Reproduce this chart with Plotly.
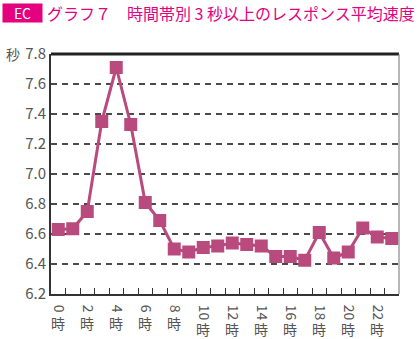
import plotly.graph_objects as go

hours = list(range(24))
speed = [6.63, 6.635, 6.75, 7.35, 7.71, 7.33, 6.81, 6.69, 6.50, 6.48, 6.51, 6.52,
         6.54, 6.53, 6.52, 6.45, 6.45, 6.425, 6.61, 6.44, 6.48, 6.64, 6.58, 6.57]
label_hours = list(range(0, 24, 2))
label_nums = [str(h) for h in label_hours]
hour_suffix = "時"
y_ticks = [6.2, 6.4, 6.6, 6.8, 7.0, 7.2, 7.4, 7.6, 7.8]
y_ticktext = ["6.2", "6.4", "6.6", "6.8", "7.0", "7.2", "7.4", "7.6", "7.8"]
title_text = "グラフ７　時間帯別 3 秒以上のレスポンス平均速度"
badge_text = "EC"
unit_text = "秒"

FONT = "Noto Sans CJK JP"
LINE_COLOR = "#b84a7d"
PINK = "#e4007f"
GRAY = "#555555"

PW, PH = 348, 240  # plot area size in px
ML, MT = 51, 54

fig = go.Figure()
fig.add_trace(go.Scatter(
    x=hours, y=speed, mode="lines+markers",
    line=dict(color=LINE_COLOR, width=3),
    marker=dict(symbol="square", size=13, color=LINE_COLOR),
    hoverinfo="skip", showlegend=False,
))

fig.update_xaxes(
    range=[-0.5, 23.5],
    tickmode="array", tickvals=label_hours, ticktext=label_nums,
    tickangle=90, ticks="", ticklen=0, ticklabelstandoff=6,
    tickfont=dict(family=FONT, size=14, color=GRAY),
    showgrid=False, zeroline=False,
    showline=True, linecolor="#333333", linewidth=2,
    minor=dict(tickmode="array", tickvals=[h + 0.5 for h in hours[:-1]],
               ticks="inside", ticklen=6, tickwidth=1.2, tickcolor="#333333",
               showgrid=False),
)
fig.update_yaxes(
    range=[6.2, 7.8],
    tickmode="array", tickvals=y_ticks, ticktext=y_ticktext,
    ticks="", tickfont=dict(family=FONT, size=15, color=GRAY),
    showgrid=True, gridcolor="#4a4a4a", gridwidth=1.5, griddash="6px,5px",
    zeroline=False, showline=True, linecolor="#333333", linewidth=2,
)

annotations = []
for h, n in zip(label_hours, label_nums):
    annotations.append(dict(
        x=h, xref="x", y=0, yref="paper", yanchor="top",
        yshift=-(17 if len(n) == 1 else 23),
        text=hour_suffix, showarrow=False,
        font=dict(family=FONT, size=14, color=GRAY),
    ))
annotations.append(dict(
    x=(2 - ML) / PW, y=1 + (MT - 3) / PH, xref="paper", yref="paper",
    xanchor="left", yanchor="top",
    text=badge_text, showarrow=False, bgcolor=PINK, width=36, height=15,
    font=dict(family=FONT, size=14, color="white"), borderpad=1.5,
))
annotations.append(dict(
    x=(45 - ML) / PW, y=1 + (MT - 13) / PH, xref="paper", yref="paper",
    xanchor="left", yanchor="middle", text=title_text, showarrow=False,
    font=dict(family=FONT, size=16, color=PINK),
))
annotations.append(dict(
    x=(4 - ML) / PW, y=1, xref="paper", yref="paper",
    xanchor="left", yanchor="middle", text=unit_text, showarrow=False,
    font=dict(family=FONT, size=14, color=GRAY),
))

fig.update_layout(
    width=420, height=339,
    margin=dict(l=ML, r=420 - ML - PW, t=MT, b=339 - MT - PH),
    paper_bgcolor="white", plot_bgcolor="white",
    font=dict(family=FONT),
    annotations=annotations,
)

fig.add_shape(type="line", xref="paper", yref="paper", x0=0, x1=1, y0=1, y1=1,
              line=dict(color="#222222", width=3))
fig.add_shape(type="line", xref="paper", yref="paper", x0=1, x1=1, y0=0, y1=1,
              line=dict(color="#888888", width=1.2))

fig.write_html("out.html")
